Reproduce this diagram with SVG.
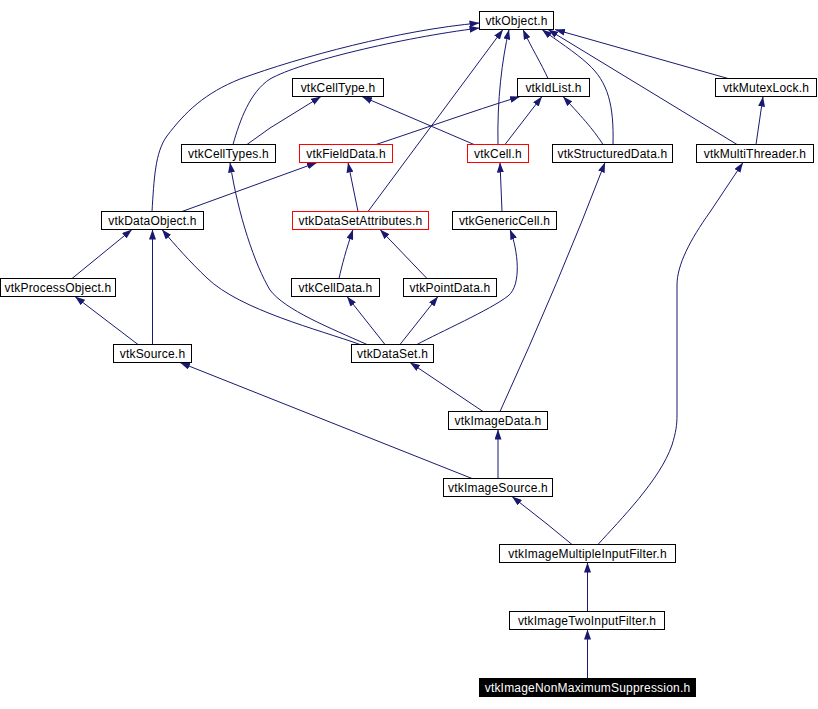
<svg xmlns="http://www.w3.org/2000/svg" width="818" height="709" viewBox="0 0 818 709">
<defs>
<marker id="ah" viewBox="0 0 10 7" refX="10" refY="3.5" markerWidth="10" markerHeight="7" markerUnits="userSpaceOnUse" orient="auto">
<path d="M0,0 L10,3.5 L0,7 z" fill="#191970"/>
</marker>
<style>
.n rect{fill:#fff;stroke:#000;stroke-width:1}
.r rect{stroke:#f00}
.n text{font-family:"Liberation Sans",Arial,sans-serif;font-size:12px;letter-spacing:0.2px;text-anchor:middle;fill:#000}
.d rect{fill:#000;stroke:#000}
.d text{fill:#fff}
#edges path{fill:none;stroke:#191970;stroke-width:1;marker-end:url(#ah)}
</style>
</defs>
<rect width="818" height="709" fill="#fff"/>
<g id="edges">
<path d="M152,211.5 C154,180 155,152 167,136 C185,112 205,93 240,79 C300,57 400,30 479.5,23"/>
<path d="M233,144.5 C240,120 250,92 270,79 C300,62 400,38 479.5,28"/>
<path d="M247,144.5 L270,128 L321,96.5"/>
<path d="M376,144.5 C420,130 470,112 520,96.5"/>
<path d="M474,144.5 L362,96.5"/>
<path d="M505,144.5 L542,96.5"/>
<path d="M498,144.5 C497,100 502,60 509,29.5"/>
<path d="M368,211.5 L503,29.5"/>
<path d="M358,211.5 L348,162.5"/>
<path d="M548,78.5 C542,65 530,45 523,29.5"/>
<path d="M613,144.5 C614,105 608,82 588,64 C575,52 556,40 542,29.5"/>
<path d="M603,144.5 C595,132 585,120 563,96.5"/>
<path d="M737,144.5 L548,29.5"/>
<path d="M728,78.5 L555,29.5"/>
<path d="M756,144.5 L763,96.5"/>
<path d="M502,211.5 L500,162.5"/>
<path d="M182,211.5 L317,162.5"/>
<path d="M72,278.5 L132,229.5"/>
<path d="M152.5,344.5 L152.5,229.5"/>
<path d="M138,344.5 L75,296.5"/>
<path d="M360,344.5 C320,330 240,310 207,278 C190,262 175,245 162,229.5"/>
<path d="M367,344.5 C330,328 285,310 270,290 C255,265 238,215 230,162.5"/>
<path d="M339,278.5 C342,265 346,250 353,229.5"/>
<path d="M427,278.5 L380,229.5"/>
<path d="M385,344.5 L347,296.5"/>
<path d="M400,344.5 L438,296.5"/>
<path d="M417,344.5 C440,332 490,310 508,296 C522,285 518,250 510,229.5"/>
<path d="M483,411.5 L410,362.5"/>
<path d="M500,411.5 Q560,280 605,162.5"/>
<path d="M498,478.5 L498,429.5"/>
<path d="M472,478.5 L180,362.5"/>
<path d="M572,544.5 L547,524 L512,496.5"/>
<path d="M598,544.5 C620,520 660,480 672,445 C676,432 677,425 677,415 L677,285 C677,265 690,240 710,212 L743,162.5"/>
<path d="M587.5,611.5 L587.5,562.5"/>
<path d="M587.5,678 L587.5,629.5"/>
</g>
<g id="vtkObject" class="n"><rect x="479.5" y="11.5" width="74" height="18"/><text x="516.5" y="24.5">vtkObject.h</text></g>
<g id="vtkCellType" class="n"><rect x="292.5" y="78.5" width="91" height="18"/><text x="338" y="91.5">vtkCellType.h</text></g>
<g id="vtkIdList" class="n"><rect x="517.5" y="78.5" width="72" height="18"/><text x="553.5" y="91.5">vtkIdList.h</text></g>
<g id="vtkMutexLock" class="n"><rect x="715.5" y="78.5" width="101" height="18"/><text x="766" y="91.5">vtkMutexLock.h</text></g>
<g id="vtkCellTypes" class="n"><rect x="181.5" y="144.5" width="94" height="18"/><text x="228.5" y="157.5">vtkCellTypes.h</text></g>
<g id="vtkFieldData" class="n r"><rect x="299.5" y="144.5" width="93" height="18"/><text x="346" y="157.5">vtkFieldData.h</text></g>
<g id="vtkCell" class="n r"><rect x="467.5" y="144.5" width="61" height="18"/><text x="498" y="157.5">vtkCell.h</text></g>
<g id="vtkStructuredData" class="n"><rect x="552.5" y="144.5" width="120" height="18"/><text x="612.5" y="157.5">vtkStructuredData.h</text></g>
<g id="vtkMultiThreader" class="n"><rect x="696.5" y="144.5" width="117" height="18"/><text x="755" y="157.5">vtkMultiThreader.h</text></g>
<g id="vtkDataObject" class="n"><rect x="101.5" y="211.5" width="102" height="18"/><text x="152.5" y="224.5">vtkDataObject.h</text></g>
<g id="vtkDataSetAttributes" class="n r"><rect x="292.5" y="211.5" width="136" height="18"/><text x="360.5" y="224.5">vtkDataSetAttributes.h</text></g>
<g id="vtkGenericCell" class="n"><rect x="452.5" y="211.5" width="104" height="18"/><text x="504.5" y="224.5">vtkGenericCell.h</text></g>
<g id="vtkProcessObject" class="n"><rect x="0.5" y="278.5" width="115" height="18"/><text x="58" y="291.5">vtkProcessObject.h</text></g>
<g id="vtkCellData" class="n"><rect x="291.5" y="278.5" width="88" height="18"/><text x="335.5" y="291.5">vtkCellData.h</text></g>
<g id="vtkPointData" class="n"><rect x="403.5" y="278.5" width="93" height="18"/><text x="450" y="291.5">vtkPointData.h</text></g>
<g id="vtkSource" class="n"><rect x="113.5" y="344.5" width="78" height="18"/><text x="152.5" y="357.5">vtkSource.h</text></g>
<g id="vtkDataSet" class="n"><rect x="351.5" y="344.5" width="82" height="18"/><text x="392.5" y="357.5">vtkDataSet.h</text></g>
<g id="vtkImageData" class="n"><rect x="448.5" y="411.5" width="99" height="18"/><text x="498" y="424.5">vtkImageData.h</text></g>
<g id="vtkImageSource" class="n"><rect x="443.5" y="478.5" width="109" height="18"/><text x="498" y="491.5">vtkImageSource.h</text></g>
<g id="vtkImageMultipleInputFilter" class="n"><rect x="499.5" y="544.5" width="176" height="18"/><text x="587.5" y="557.5">vtkImageMultipleInputFilter.h</text></g>
<g id="vtkImageTwoInputFilter" class="n"><rect x="509.5" y="611.5" width="155" height="18"/><text x="587" y="624.5">vtkImageTwoInputFilter.h</text></g>
<g id="vtkImageNonMaximumSuppression" class="n d"><rect x="479.5" y="678.5" width="216" height="18"/><text x="587.5" y="691.5">vtkImageNonMaximumSuppression.h</text></g>
</svg>
